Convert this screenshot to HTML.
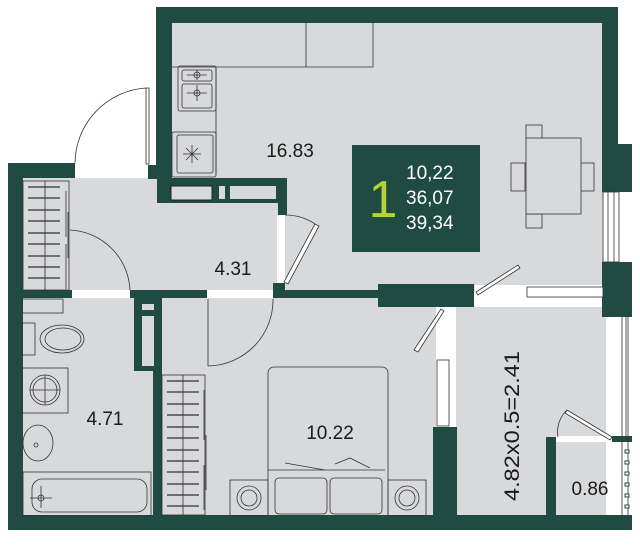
<!DOCTYPE html>
<html><head><meta charset="utf-8"><style>
html,body{margin:0;padding:0;background:#fff;}
svg{display:block}
text{font-family:"Liberation Sans",sans-serif;}
</style></head><body>
<svg width="640" height="548" viewBox="0 0 640 548" xmlns="http://www.w3.org/2000/svg">
<g fill="#d8d9db">
<rect x="170" y="22" width="434" height="270"/>
<rect x="22" y="178" width="258" height="115"/>
<rect x="22" y="296" width="135" height="222"/>
<rect x="160" y="296" width="276" height="222"/>
<rect x="456" y="305" width="150" height="215"/>
</g>
<g fill="#fff">
<rect x="72" y="290" width="58" height="8"/>
<rect x="207" y="290" width="66" height="8"/>
<rect x="277" y="215" width="8" height="70"/>
<rect x="436" y="305" width="20" height="122"/>
<rect x="475" y="285" width="128" height="22"/>
<rect x="556" y="436" width="57" height="6"/>
</g>
<g fill="#1f4b43">
<rect x="156" y="7" width="462" height="16"/>
<rect x="156" y="7" width="16" height="160"/>
<rect x="148" y="165" width="24" height="14"/>
<rect x="157" y="178" width="130" height="25"/>
<rect x="278" y="178" width="9" height="37"/>
<rect x="602" y="7" width="16" height="140"/>
<rect x="602" y="144" width="30" height="48"/>
<rect x="602" y="262" width="30" height="55"/>
<rect x="8" y="163" width="67" height="15"/>
<rect x="8" y="163" width="15" height="367"/>
<rect x="8" y="515" width="624" height="15"/>
<rect x="8" y="290" width="64" height="8"/>
<rect x="130" y="290" width="77" height="8"/>
<rect x="273" y="283" width="12" height="15"/>
<rect x="273" y="290" width="110" height="8"/>
<rect x="378" y="284" width="96" height="23"/>
<rect x="153" y="296" width="9" height="222"/>
<rect x="134" y="296" width="28" height="75"/>
<rect x="433" y="427" width="24" height="90"/>
<rect x="546" y="437" width="10" height="80"/>
<rect x="612" y="436" width="20" height="6"/>
</g>
<g fill="#d8d9db" stroke="#222" stroke-width="1">
<rect x="171" y="186" width="41" height="14"/>
</g>
<g fill="#d8d9db">
<rect x="219" y="186" width="6" height="13"/>
<rect x="230" y="186" width="46" height="13"/>
<rect x="142" y="304" width="12" height="6"/>
<rect x="142" y="316" width="12" height="50"/>
</g>
<g fill="none" stroke="#333" stroke-width="0.8">
<path d="M172 67 H373 V22 M306 22 V67"/>
<path d="M216 67 V175"/>
<rect x="178" y="66" width="38" height="45" rx="2"/>
<rect x="182" y="70" width="30" height="11" rx="2"/>
<rect x="182" y="84" width="30" height="24" rx="2"/>
<circle cx="197" cy="75" r="3"/><circle cx="197" cy="93" r="3"/>
<path d="M187 75h20M197 70v10M187 93h20M197 85v16"/>
<rect x="172" y="132" width="44" height="45" rx="2"/>
<rect x="177" y="135" width="36" height="38" rx="2"/>
<path d="M186 148l12 12M198 148l-12 12M192 145v18M183 154h18"/>
</g>
<g fill="none" stroke="#333" stroke-width="0.8">
<rect x="146" y="88" width="3" height="76" fill="#fff"/>
<path d="M146 88 A76 76 0 0 0 75 163"/>
</g>
<g fill="none" stroke="#333" stroke-width="0.8">
<rect x="23" y="181" width="46" height="109"/>
<path d="M45 181V290"/>
<path d="M66 191v46M68 212v46M66 244v45"/>
<path d="M70 230 A63 63 0 0 1 130 290"/>
</g>
<g stroke="#333" stroke-width="1.2">
<path d="M28 187h32M28 198h32M28 210h32M28 221h32M28 233h32M28 244h32M28 256h32M28 267h32M28 278h32"/>
</g>
<g fill="none" stroke="#333" stroke-width="0.8">
<path d="M285 215 A55 55 0 0 1 318 226"/>
<path d="M315 224 L284 282 L288 284 L319 226Z" fill="#fff"/>
</g>
<g fill="#d8d9db" stroke="#333" stroke-width="0.8">
<rect x="526" y="125" width="16" height="14"/>
<rect x="526" y="214" width="16" height="14"/>
<rect x="511" y="163" width="14" height="28"/>
<rect x="580" y="163" width="14" height="28"/>
<rect x="526" y="138" width="55" height="76"/>
</g>
<rect x="352" y="145" width="128" height="107" fill="#1f4b43"/>
<text x="383" y="217" font-size="52" fill="#b5d334" text-anchor="middle">1</text>
<g fill="#fff" font-size="19">
<text x="406" y="179">10,22</text>
<text x="406" y="204">36,07</text>
<text x="406" y="229">39,34</text>
</g>
<g fill="#fff" stroke="#333" stroke-width="0.8">
<rect x="603" y="192" width="16" height="70"/>
<path d="M608 192v70M614 192v70" fill="none"/>
<rect x="527" y="287" width="76" height="10"/>
<rect x="437" y="360" width="12" height="66"/>
</g>
<g fill="none" stroke="#333" stroke-width="0.8">
<path d="M476 292 L518 265 L520 268 L478 295Z" fill="#fff"/>
<path d="M441 309 L414 350 L418 352 L444 311Z" fill="#fff"/>
<path d="M622 316V520M628 316V520M626 316V440"/>
<path d="M567 410 L612 437 L610 440 L565 413Z" fill="#fff"/>
<path d="M567 410 A30 30 0 0 0 558 437"/>
</g>
<g fill="#fff" stroke="#1f4b43" stroke-width="1">
<rect x="625" y="450" width="4" height="3"/><rect x="625" y="461" width="4" height="3"/><rect x="625" y="472" width="4" height="3"/><rect x="625" y="483" width="4" height="3"/><rect x="625" y="494" width="4" height="3"/><rect x="625" y="505" width="4" height="3"/>
</g>
<g fill="none" stroke="#333" stroke-width="0.8">
<rect x="22" y="299" width="41" height="14"/>
<rect x="22" y="323" width="13" height="32"/>
<ellipse cx="62" cy="339" rx="22" ry="14"/>
<ellipse cx="63" cy="339" rx="18" ry="11"/>
<rect x="22" y="368" width="46" height="45"/>
<circle cx="45" cy="390" r="15"/><circle cx="45" cy="390" r="12"/>
<path d="M30 390h30M45 375v30"/>
<ellipse cx="38" cy="443" rx="15" ry="18"/>
<circle cx="36" cy="445" r="2"/>
<rect x="23" y="472" width="128" height="44"/>
<rect x="32" y="479" width="115" height="33" rx="10"/>
<circle cx="41" cy="498" r="3"/>
<path d="M30 498h22M41 486v22"/>
</g>
<g fill="none" stroke="#333" stroke-width="0.8">
<rect x="162" y="375" width="43" height="140"/>
<path d="M183 375V515M204 390v50M206 435v55M204 465v45"/>
<path d="M208 299 V366 A66 66 0 0 0 273 299"/>
</g>
<g stroke="#333" stroke-width="1.2">
<path d="M167 381h32M167 392h32M167 404h32M167 415h32M167 427h32M167 438h32M167 450h32M167 461h32M167 472h32M167 484h32M167 495h32M167 506h32"/>
</g>
<g fill="none" stroke="#333" stroke-width="0.8">
<path d="M268 515V373a6 6 0 0 1 6-6h108a6 6 0 0 1 6 6V515"/>
<path d="M268 470L385 470"/>
<path d="M285 463 L325 470 M335 464 L350 458 L370 468"/>
<rect x="275" y="478" width="52" height="36" rx="4"/>
<rect x="330" y="478" width="52" height="36" rx="4"/>
<rect x="230" y="480" width="38" height="36"/>
<rect x="388" y="480" width="38" height="36"/>
<circle cx="249" cy="498" r="12"/><circle cx="249" cy="498" r="8"/>
<circle cx="407" cy="498" r="12"/><circle cx="407" cy="498" r="8"/>
</g>
<g fill="#1a1a1a" font-size="19">
<text x="290" y="157" text-anchor="middle">16.83</text>
<text x="233" y="275" text-anchor="middle">4.31</text>
<text x="105" y="425" text-anchor="middle">4.71</text>
<text x="330" y="439" text-anchor="middle">10.22</text>
<text x="590" y="495" text-anchor="middle">0.86</text>
<text transform="translate(519,426) rotate(-90)" text-anchor="middle" font-size="21" textLength="150" lengthAdjust="spacingAndGlyphs">4.82x0.5=2.41</text>
</g>
</svg>
</body></html>
